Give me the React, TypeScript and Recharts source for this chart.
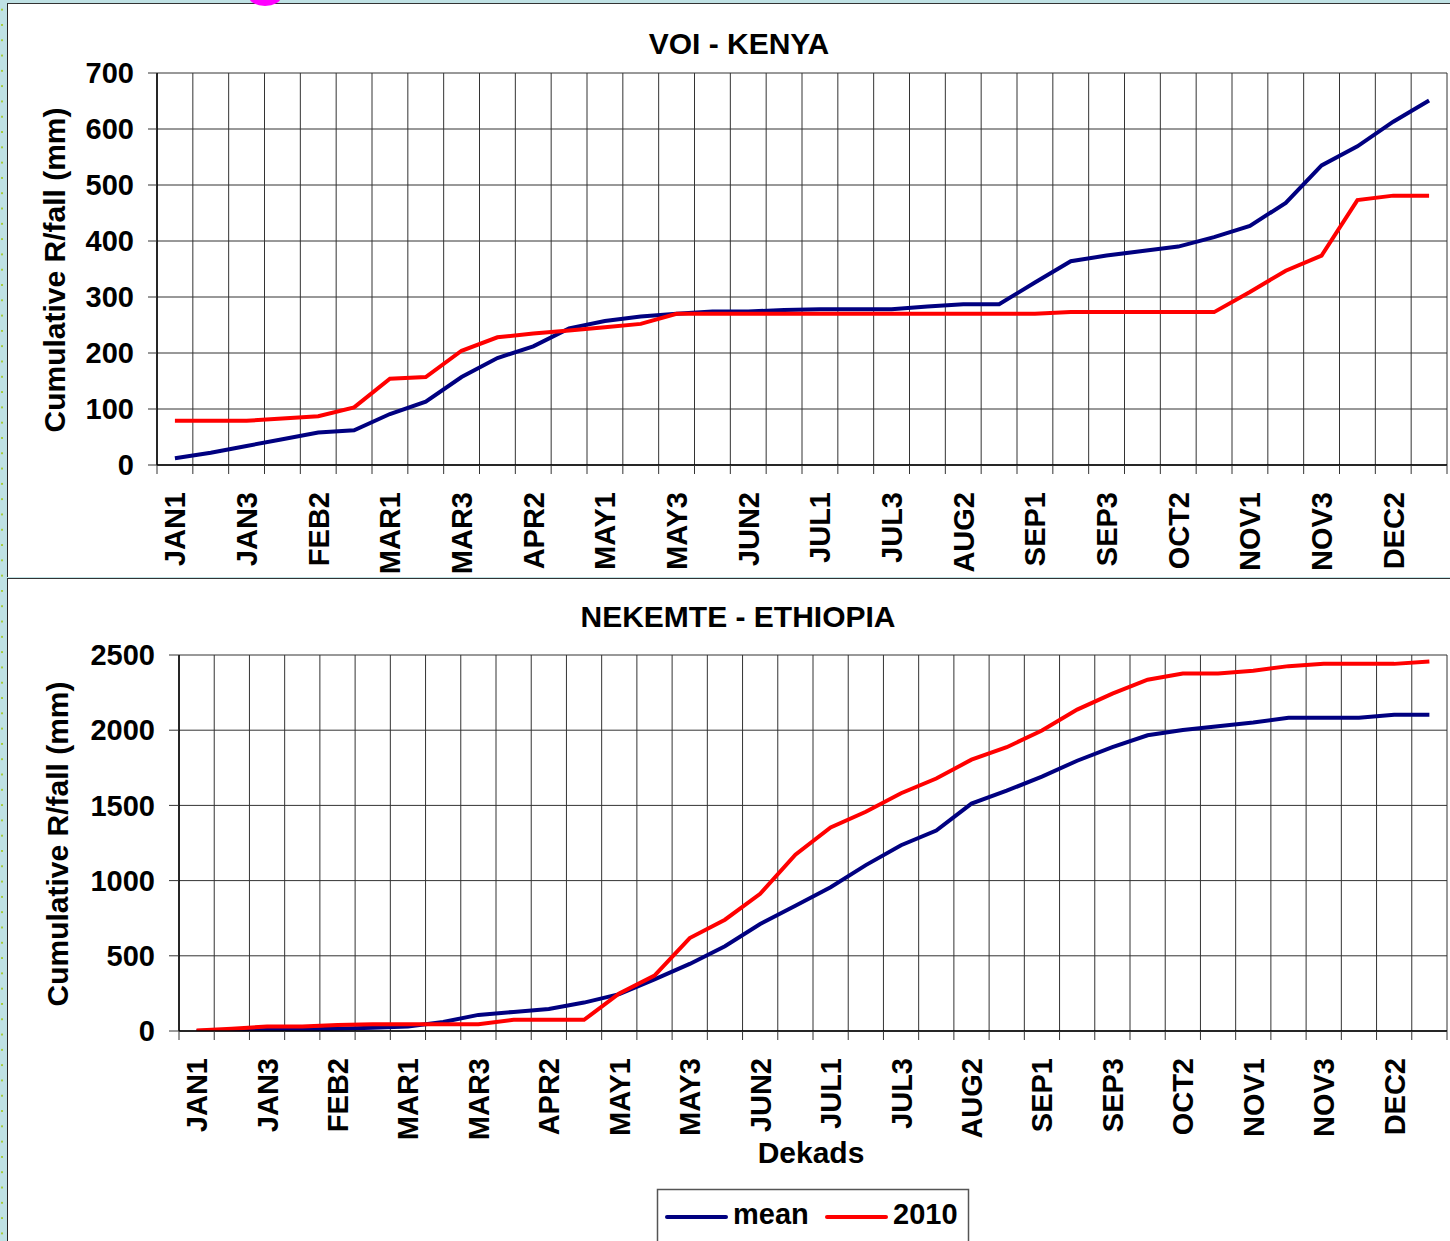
import React from "react";
import { LineChart, Line, XAxis, YAxis, CartesianGrid } from "recharts";

const dekads = [
  "JAN1", "JAN2", "JAN3", "FEB1", "FEB2", "FEB3", "MAR1", "MAR2", "MAR3",
  "APR1", "APR2", "APR3", "MAY1", "MAY2", "MAY3", "JUN1", "JUN2", "JUN3",
  "JUL1", "JUL2", "JUL3", "AUG1", "AUG2", "AUG3", "SEP1", "SEP2", "SEP3",
  "OCT1", "OCT2", "OCT3", "NOV1", "NOV2", "NOV3", "DEC1", "DEC2", "DEC3",
];

// Label ticks shown on the axis (every other dekad)
const labelTicks = [0, 2, 4, 6, 8, 10, 12, 14, 16, 18, 20, 22, 24, 26, 28, 30, 32, 34];
// Category boundaries (grid lines / tick marks)
const boundaryTicks = [
  -0.5, 0.5, 1.5, 2.5, 3.5, 4.5, 5.5, 6.5, 7.5, 8.5, 9.5, 10.5, 11.5, 12.5,
  13.5, 14.5, 15.5, 16.5, 17.5, 18.5, 19.5, 20.5, 21.5, 22.5, 23.5, 24.5,
  25.5, 26.5, 27.5, 28.5, 29.5, 30.5, 31.5, 32.5, 33.5, 34.5, 35.5,
];

const voiMean = [
  12, 22, 34, 46, 58, 62, 91, 113, 157, 191, 212, 244, 257, 265, 270, 274,
  274, 277, 278, 278, 278, 283, 287, 287, 326, 364, 374, 382, 390, 407, 427,
  468, 535, 569, 613, 651,
];
const voi2010 = [
  79, 79, 79, 83, 87, 103, 154, 157, 204, 228, 235, 240, 246, 252, 270, 270,
  270, 270, 270, 270, 270, 270, 270, 270, 270, 273, 273, 273, 273, 273, 309,
  347, 374, 473, 481, 481,
];
const voiYTicks = [0, 100, 200, 300, 400, 500, 600, 700];

const nekMean = [
  0, 3, 6, 10, 15, 22, 30, 60, 107, 127, 147, 189, 245, 343, 446, 564, 711,
  833, 956, 1103, 1235, 1333, 1512, 1598, 1691, 1797, 1887, 1966, 2002, 2027,
  2051, 2083, 2083, 2083, 2103, 2103,
];
const nek2010 = [
  3, 15, 30, 30, 40, 45, 45, 45, 45, 74, 74, 74, 250, 368, 618, 740, 912,
  1172, 1353, 1458, 1581, 1679, 1804, 1887, 1998, 2137, 2243, 2336, 2377,
  2377, 2395, 2426, 2441, 2441, 2441, 2456,
];
const nekYTicks = [0, 500, 1000, 1500, 2000, 2500];

const FONT = '"Liberation Sans", Arial, Helvetica, sans-serif';
const MEAN_COLOR = "#000080";
const Y2010_COLOR = "#ff0000";
const LIGHT_BLUE = "#bfe1e4";

const buildData = (mean: number[], y2010: number[]) =>
  dekads.map((d, i) => ({ i, name: d, mean: mean[i], y2010: y2010[i] }));

const RotTick = (props: any) => {
  const { x, y, payload } = props;
  return (
    <text
      transform={`translate(${x + 10.5},${y + 15}) rotate(-90)`}
      textAnchor="end"
      fontSize={29}
      fontWeight="bold"
      fontFamily={FONT}
      fill="#000"
    >
      {dekads[payload.value]}
    </text>
  );
};

const EmptyTick = () => <g />;

type PanelProps = {
  data: any[];
  width: number;
  height: number;
  marginTop: number;
  marginBottom: number;
  yWidth: number;
  yMax: number;
  yTicks: number[];
  yTickSize: number;
};

const Panel = ({ data, width, height, marginTop, marginBottom, yWidth, yMax, yTicks, yTickSize }: PanelProps) => (
  <LineChart
    width={width}
    height={height}
    data={data}
    margin={{ top: marginTop, right: 3, left: 0, bottom: marginBottom }}
  >
    <CartesianGrid stroke="#333" strokeWidth={1} xAxisId={0} yAxisId={0} />
    <XAxis
      xAxisId={0}
      dataKey="i"
      type="number"
      domain={[-0.5, 35.5]}
      ticks={boundaryTicks}
      interval={0}
      tick={(p: any) => <EmptyTick />}
      tickSize={9}
      tickLine={{ stroke: "#333", strokeWidth: 1 }}
      axisLine={{ stroke: "#000", strokeWidth: 1.5 }}
      height={12}
      allowDataOverflow
    />
    <XAxis
      xAxisId="lab"
      dataKey="i"
      type="number"
      domain={[-0.5, 35.5]}
      ticks={labelTicks}
      interval={0}
      axisLine={false}
      tickLine={false}
      tickSize={0}
      tickMargin={0}
      height={100}
      tick={(p: any) => <RotTick {...p} />}
      allowDataOverflow
    />
    <YAxis
      yAxisId={0}
      type="number"
      domain={[0, yMax]}
      ticks={yTicks}
      interval={0}
      width={yWidth}
      tickSize={yTickSize}
      tickMargin={14}
      tickLine={{ stroke: "#333", strokeWidth: 1 }}
      axisLine={{ stroke: "#000", strokeWidth: 1.5 }}
      tick={{ fontSize: 29, fontWeight: "bold", fontFamily: FONT, fill: "#000" }}
      allowDataOverflow
    />
    <Line
      xAxisId={0}
      yAxisId={0}
      type="linear"
      dataKey="mean"
      name="mean"
      stroke={MEAN_COLOR}
      strokeWidth={4}
      dot={false}
      activeDot={false}
      isAnimationActive={false}
    />
    <Line
      xAxisId={0}
      yAxisId={0}
      type="linear"
      dataKey="y2010"
      name="2010"
      stroke={Y2010_COLOR}
      strokeWidth={4}
      dot={false}
      activeDot={false}
      isAnimationActive={false}
    />
  </LineChart>
);

const textStyle = { fontFamily: FONT, fontWeight: "bold" as const, fontSize: 30, fill: "#000" };
const legendText = { fontFamily: FONT, fontWeight: "bold" as const, fontSize: 29, fill: "#000" };

export default function App() {
  const voiData = buildData(voiMean, voi2010);
  const nekData = buildData(nekMean, nek2010);
  return (
    <div
      style={{
        position: "fixed",
        left: 0,
        top: 0,
        width: 1450,
        height: 1241,
        overflow: "hidden",
        background: LIGHT_BLUE,
      }}
    >
      {/* dotted left strip */}
      <div
        style={{
          position: "absolute",
          left: 0,
          top: 0,
          width: 6,
          height: 1241,
          backgroundImage: "radial-gradient(circle, #a6cc3a 1px, transparent 1.3px)",
          backgroundSize: "6px 15.3px",
          backgroundPosition: "-1px 2px",
        }}
      />
      {/* top panel */}
      <div
        style={{
          position: "absolute",
          left: 7,
          top: 3,
          width: 1443,
          height: 573,
          background: "#fff",
          borderLeft: "1px solid #222",
          borderTop: "1px solid #333",
        }}
      >
        <Panel
          data={voiData}
          width={1442}
          height={573}
          marginTop={69}
          marginBottom={0}
          yWidth={149}
          yMax={700}
          yTicks={voiYTicks}
          yTickSize={9}
        />
      </div>
      {/* bottom panel */}
      <div
        style={{
          position: "absolute",
          left: 7,
          top: 578,
          width: 1443,
          height: 662,
          background: "#fff",
          borderLeft: "1px solid #222",
          borderTop: "1px solid #333",
        }}
      >
        <Panel
          data={nekData}
          width={1442}
          height={662}
          marginTop={76}
          marginBottom={98}
          yWidth={171}
          yMax={2500}
          yTicks={nekYTicks}
          yTickSize={10}
        />
      </div>
      {/* overlay texts */}
      <svg
        width={1450}
        height={1241}
        style={{ position: "absolute", left: 0, top: 0, pointerEvents: "none" }}
      >
        <text x={739} y={54} textAnchor="middle" {...textStyle}>VOI - KENYA</text>
        <text x={738} y={627} textAnchor="middle" {...textStyle}>NEKEMTE - ETHIOPIA</text>
        <text x={811} y={1163} textAnchor="middle" {...textStyle}>Dekads</text>
        <text transform="translate(65,270) rotate(-90)" textAnchor="middle" {...textStyle}>
          Cumulative R/fall (mm)
        </text>
        <text transform="translate(68,844) rotate(-90)" textAnchor="middle" {...textStyle}>
          Cumulative R/fall (mm)
        </text>
        {/* legend */}
        <rect x={657.5} y={1189.5} width={311} height={80} fill="#fff" stroke="#555" strokeWidth={1.5} />
        <line x1={667} y1={1217} x2={726} y2={1217} stroke={MEAN_COLOR} strokeWidth={4} strokeLinecap="round" />
        <text x={733} y={1224} {...legendText}>mean</text>
        <line x1={827} y1={1217} x2={886} y2={1217} stroke={Y2010_COLOR} strokeWidth={4} strokeLinecap="round" />
        <text x={893} y={1224} {...legendText}>2010</text>
        {/* magenta mark at top */}
        <ellipse cx={265} cy={-3} rx={16} ry={9} fill="#ff00ff" />
      </svg>
    </div>
  );
}
